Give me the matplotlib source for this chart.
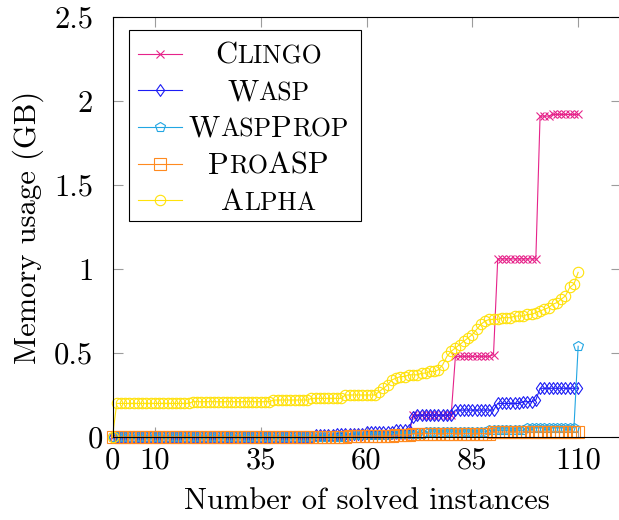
import matplotlib
matplotlib.use("Agg")
import matplotlib.pyplot as plt
from matplotlib.lines import Line2D
from matplotlib.patches import Rectangle
from matplotlib.path import Path
from matplotlib.transforms import ScaledTranslation
from matplotlib.offsetbox import TextArea, HPacker, AnnotationBbox

plt.rcParams["font.family"] = "cmr10"
plt.rcParams["mathtext.fontset"] = "cm"
plt.rcParams["axes.formatter.use_mathtext"] = True

# memory (GB) per solved instance, sorted, one value per instance index
clingo = [0.0, 0.0, 0.0, 0.0, 0.0, 0.0, 0.0, 0.0, 0.0, 0.0,
          0.0, 0.0, 0.0, 0.0, 0.0, 0.0, 0.0, 0.0, 0.0, 0.0,
          0.0, 0.0, 0.0, 0.0, 0.0, 0.0, 0.0, 0.0, 0.0, 0.0,
          0.0, 0.0, 0.0, 0.0, 0.0, 0.0, 0.0, 0.0, 0.0, 0.0,
          0.0, 0.0, 0.0, 0.0, 0.0, 0.0, 0.0, 0.0, 0.0, 0.0,
          0.0, 0.0, 0.0, 0.0, 0.0, 0.0, 0.01, 0.01, 0.01, 0.01,
          0.01, 0.01, 0.01, 0.01, 0.01, 0.01, 0.01, 0.01, 0.01, 0.01,
          0.01, 0.13, 0.13, 0.13, 0.13, 0.13, 0.13, 0.13, 0.13, 0.13,
          0.13, 0.48, 0.48, 0.48, 0.48, 0.48, 0.48, 0.48, 0.48, 0.48,
          0.49, 1.06, 1.06, 1.06, 1.06, 1.06, 1.06, 1.06, 1.06, 1.06,
          1.06, 1.91, 1.91, 1.91, 1.92, 1.92, 1.92, 1.92, 1.92, 1.92,
          1.92]

wasp = [0.0, 0.0, 0.0, 0.0, 0.0, 0.0, 0.0, 0.0, 0.0, 0.0,
        0.0, 0.0, 0.0, 0.0, 0.0, 0.0, 0.0, 0.0, 0.0, 0.0,
        0.0, 0.0, 0.0, 0.0, 0.0, 0.0, 0.0, 0.0, 0.0, 0.0,
        0.0, 0.0, 0.0, 0.0, 0.0, 0.0, 0.0, 0.0, 0.0, 0.0,
        0.0, 0.0, 0.0, 0.0, 0.0, 0.0, 0.0, 0.0, 0.01, 0.01,
        0.01, 0.01, 0.01, 0.02, 0.02, 0.02, 0.02, 0.02, 0.02, 0.02,
        0.03, 0.03, 0.03, 0.03, 0.03, 0.03, 0.03, 0.04, 0.04, 0.04,
        0.04, 0.12, 0.13, 0.13, 0.13, 0.13, 0.13, 0.13, 0.13, 0.13,
        0.13, 0.16, 0.16, 0.16, 0.16, 0.16, 0.16, 0.16, 0.16, 0.16,
        0.16, 0.20, 0.20, 0.20, 0.20, 0.20, 0.20, 0.21, 0.21, 0.21,
        0.22, 0.29, 0.29, 0.29, 0.29, 0.29, 0.29, 0.29, 0.29, 0.29,
        0.29]

waspprop = [0.0, 0.0, 0.0, 0.0, 0.0, 0.0, 0.0, 0.0, 0.0, 0.0,
            0.0, 0.0, 0.0, 0.0, 0.0, 0.0, 0.0, 0.0, 0.0, 0.0,
            0.0, 0.0, 0.0, 0.0, 0.0, 0.0, 0.0, 0.0, 0.0, 0.0,
            0.0, 0.0, 0.0, 0.0, 0.0, 0.0, 0.0, 0.0, 0.0, 0.0,
            0.0, 0.0, 0.0, 0.0, 0.0, 0.0, 0.0, 0.0, 0.0, 0.0,
            0.0, 0.0, 0.0, 0.0, 0.0, 0.0, 0.01, 0.01, 0.01, 0.01,
            0.01, 0.01, 0.01, 0.01, 0.01, 0.01, 0.02, 0.02, 0.02, 0.02,
            0.02, 0.02, 0.02, 0.02, 0.03, 0.03, 0.03, 0.03, 0.03, 0.03,
            0.03, 0.03, 0.03, 0.03, 0.03, 0.03, 0.03, 0.03, 0.03, 0.04,
            0.04, 0.04, 0.04, 0.04, 0.04, 0.04, 0.04, 0.04, 0.055, 0.055,
            0.055, 0.055, 0.055, 0.055, 0.055, 0.055, 0.055, 0.055, 0.055, 0.055,
            0.54]

proasp = [0.0, 0.0, 0.0, 0.0, 0.0, 0.0, 0.0, 0.0, 0.0, 0.0,
          0.0, 0.0, 0.0, 0.0, 0.0, 0.0, 0.0, 0.0, 0.0, 0.0,
          0.0, 0.0, 0.0, 0.0, 0.0, 0.0, 0.0, 0.0, 0.0, 0.0,
          0.0, 0.0, 0.0, 0.0, 0.0, 0.0, 0.0, 0.0, 0.0, 0.0,
          0.0, 0.0, 0.0, 0.0, 0.0, 0.0, 0.0, 0.0, 0.0, 0.0,
          0.0, 0.0, 0.0, 0.0, 0.0, 0.0, 0.005, 0.005, 0.005, 0.005,
          0.005, 0.005, 0.005, 0.005, 0.005, 0.005, 0.005, 0.012, 0.012, 0.012,
          0.012, 0.02, 0.02, 0.02, 0.02, 0.02, 0.02, 0.02, 0.02, 0.02,
          0.02, 0.02, 0.02, 0.02, 0.02, 0.02, 0.02, 0.02, 0.02, 0.02,
          0.03, 0.03, 0.03, 0.03, 0.03, 0.03, 0.03, 0.03, 0.03, 0.03,
          0.03, 0.03, 0.03, 0.03, 0.03, 0.03, 0.03, 0.03, 0.03, 0.03,
          0.03]

alpha = [0.0, 0.20, 0.20, 0.20, 0.20, 0.20, 0.20, 0.20, 0.20, 0.20,
         0.20, 0.20, 0.20, 0.20, 0.20, 0.20, 0.20, 0.20, 0.20, 0.21,
         0.21, 0.21, 0.21, 0.21, 0.21, 0.21, 0.21, 0.21, 0.21, 0.21,
         0.21, 0.21, 0.21, 0.21, 0.21, 0.21, 0.21, 0.21, 0.22, 0.22,
         0.22, 0.22, 0.22, 0.22, 0.22, 0.22, 0.22, 0.23, 0.23, 0.23,
         0.23, 0.23, 0.23, 0.23, 0.23, 0.25, 0.25, 0.25, 0.25, 0.25,
         0.25, 0.25, 0.25, 0.27, 0.29, 0.31, 0.34, 0.35, 0.36, 0.36,
         0.37, 0.37, 0.37, 0.38, 0.38, 0.39, 0.39, 0.40, 0.43, 0.48,
         0.51, 0.53, 0.55, 0.57, 0.59, 0.61, 0.64, 0.67, 0.69, 0.70,
         0.70, 0.70, 0.71, 0.71, 0.71, 0.72, 0.72, 0.72, 0.73, 0.73,
         0.74, 0.75, 0.76, 0.77, 0.79, 0.80, 0.82, 0.84, 0.89, 0.91,
         0.98]

names = ["Clingo", "Wasp", "WaspProp", "ProASP", "Alpha"]
colors = ["#e6238a", "#1c1cf5", "#22a6e3", "#ff8a1f", "#ffe20a"]

xticks = [0, 10, 35, 60, 85, 110]
yticks = [0, 0.5, 1, 1.5, 2, 2.5]
ytick_labels = ["0", "0.5", "1", "1.5", "2", "2.5"]

# pgfplots-like diamond (taller than wide)
diamond = Path([(0, 1), (0.7, 0), (0, -1), (-0.7, 0), (0, 1)],
               [Path.MOVETO, Path.LINETO, Path.LINETO, Path.LINETO, Path.CLOSEPOLY])
markers = [("x", 5.5), (diamond, 8.5), ("p", 7.5), ("s", 8), ("o", 7.5)]

FS = 22
FS_SMALL = 18.5

fig = plt.figure(figsize=(6.19, 5.2), dpi=100)
ax = fig.add_axes([112.5 / 619, 83 / 520, 508 / 619, 420 / 520])

series = [clingo, wasp, waspprop, proasp, alpha]
for vals, col, (mk, ms) in zip(series, colors, markers):
    ax.plot(range(len(vals)), vals, color=col, lw=0.8, marker=mk, ms=ms,
            mfc="none", mec=col, mew=0.8, clip_on=False)

ax.set_xlim(0, 120)
ax.set_ylim(0, 2.5)
ax.set_xticks(xticks)
ax.set_xticklabels([str(t) for t in xticks])
ax.set_yticks(yticks)
ax.set_yticklabels(ytick_labels)
ax.tick_params(direction="in", length=7, width=0.8, color="#9c9c9c",
               top=True, right=True, labelsize=FS)
ax.tick_params(axis="x", pad=7.5)
ax.tick_params(axis="y", pad=14)
for sp in ax.spines.values():
    sp.set_linewidth(0.8)
    sp.set_color("black")

ax.set_xlabel("Number of solved instances", fontsize=FS, labelpad=9)
ax.set_ylabel("Memory usage (GB)", fontsize=FS, labelpad=7)

# the zero label sits closer to the axis
lbl0 = ax.get_yticklabels()[0]
lbl0.set_transform(lbl0.get_transform() + ScaledTranslation(0.1, 0, fig.dpi_scale_trans))


# legend drawn by hand so the names can be set in small caps
def to_ax(px, py):
    return (px - 112.5) / 508, (437 - py) / 420


def small_caps(name):
    parts = []
    for ch in name:
        big = ch.isupper()
        if parts and parts[-1][1] == big:
            parts[-1][0] += ch.upper()
        else:
            parts.append([ch.upper(), big])
    return HPacker(children=[TextArea(t, textprops=dict(size=FS if big else FS_SMALL))
                             for t, big in parts],
                   align="baseline", pad=0, sep=0)


x0, y0 = to_ax(129, 221)
x1, y1 = to_ax(361, 30)
ax.add_patch(Rectangle((x0, y0), x1 - x0, y1 - y0, transform=ax.transAxes,
                       facecolor="white", edgecolor="black", lw=0.8,
                       zorder=20, clip_on=False))

rows = [53.5, 90, 126.7, 163.6, 199.5]
for name, col, (mk, ms), ry in zip(names, colors, markers, rows):
    la, yy = to_ax(138, ry)
    lb, _ = to_ax(182, ry)
    lm, _ = to_ax(160, ry)
    ax.add_line(Line2D([la, lb], [yy, yy], transform=ax.transAxes, color=col,
                       lw=0.8, zorder=21, clip_on=False))
    ax.add_line(Line2D([lm], [yy], transform=ax.transAxes, color=col, marker=mk,
                       ms=ms, mfc="none", mec=col, mew=0.8, zorder=21, clip_on=False))
    tx, ty = to_ax(268.5, ry + 2.5)
    ab = AnnotationBbox(small_caps(name), (tx, ty), xycoords="axes fraction",
                        box_alignment=(0.5, 0.5), frameon=False, pad=0,
                        annotation_clip=False, zorder=22)
    ax.add_artist(ab)

fig.savefig("out.png", dpi=100)
